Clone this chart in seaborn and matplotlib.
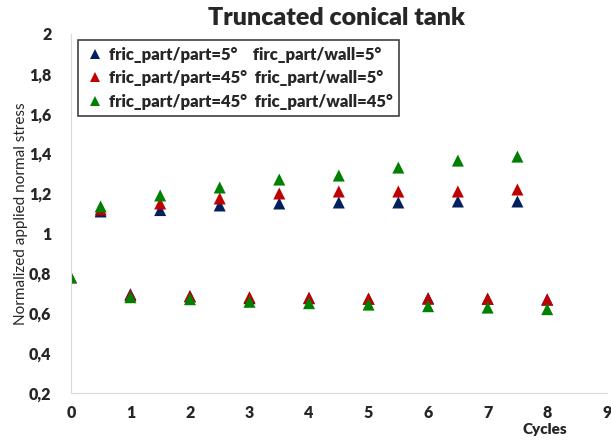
import pandas as pd
import matplotlib
matplotlib.use('Agg')
import matplotlib.pyplot as plt
import seaborn as sns
from matplotlib.ticker import FuncFormatter, MultipleLocator

# Data
cycles = [0, 0.5, 1, 1.5, 2, 2.5, 3, 3.5, 4, 4.5, 5, 5.5, 6, 6.5, 7, 7.5, 8]
stress_5_5 = [0.78, 1.11, 0.695, 1.117, 0.685, 1.14, 0.675, 1.15, 0.675,
              1.155, 0.672, 1.155, 0.675, 1.16, 0.672, 1.16, 0.668]
stress_45_5 = [0.78, 1.12, 0.69, 1.15, 0.685, 1.175, 0.68, 1.2, 0.677,
               1.21, 0.673, 1.21, 0.672, 1.21, 0.672, 1.22, 0.668]
stress_45_45 = [0.78, 1.135, 0.68, 1.19, 0.67, 1.23, 0.657, 1.27, 0.65,
                1.29, 0.643, 1.33, 0.635, 1.365, 0.628, 1.385, 0.62]

labels = ['fric_part/part=5°    firc_part/wall=5°',
          'fric_part/part=45°  fric_part/wall=5°',
          'fric_part/part=45°  fric_part/wall=45°']
colors = ['#002060', '#C00000', '#008000']

df = pd.concat([
    pd.DataFrame({'Cycles': cycles, 'Stress': vals, 'Case': lab})
    for vals, lab in zip([stress_5_5, stress_45_5, stress_45_45], labels)
])

sns.set_style('white')
plt.rcParams['font.family'] = ['Lato', 'DejaVu Sans']

fig = plt.figure(figsize=(6.11, 4.41), dpi=100)
ax = fig.add_axes([0.116, 0.109, 0.877, 0.814])

sns.scatterplot(data=df, x='Cycles', y='Stress', hue='Case', hue_order=labels,
                palette=colors, marker='^', s=75, linewidth=0, ax=ax)

ax.set_xlim(0, 9)
ax.set_ylim(0.2, 2)
ax.xaxis.set_major_locator(MultipleLocator(1))
ax.yaxis.set_major_locator(MultipleLocator(0.2))
ax.yaxis.set_major_formatter(FuncFormatter(lambda v, p: f'{v:.1f}'.rstrip('0').rstrip('.').replace('.', ',')))

for s in ['top', 'right']:
    ax.spines[s].set_visible(False)
for s in ['left', 'bottom']:
    ax.spines[s].set_color('#d9d9d9')
ax.tick_params(axis='both', length=0, labelsize=11.5)
ax.tick_params(axis='y', pad=14)
ax.tick_params(axis='x', pad=9)
for t in ax.get_xticklabels() + ax.get_yticklabels():
    t.set_fontweight('heavy')

fig.text(0.55, 1 - 18 / 441, 'Truncated conical tank', fontsize=18,
         fontweight='heavy', ha='center', va='center')
ax.set_ylabel('Normalized applied normal stress', fontsize=11)
ax.yaxis.set_label_coords(-0.08, 0.5)
ax.set_xlabel('Cycles', fontsize=11, fontweight='heavy')
ax.xaxis.set_label_coords(0.885, -0.085)

leg = ax.legend(loc='upper left', bbox_to_anchor=(0.013, 0.983), borderaxespad=0,
                frameon=True, fancybox=False, handletextpad=0.15, borderpad=0.4,
                labelspacing=0.45, handlelength=1.3, markerscale=0.85,
                prop={'weight': 'heavy', 'size': 12})
leg.get_frame().set_edgecolor('#404040')
leg.get_frame().set_linewidth(1.2)
leg.get_frame().set_alpha(1)

plt.savefig('out.png', dpi=100)
